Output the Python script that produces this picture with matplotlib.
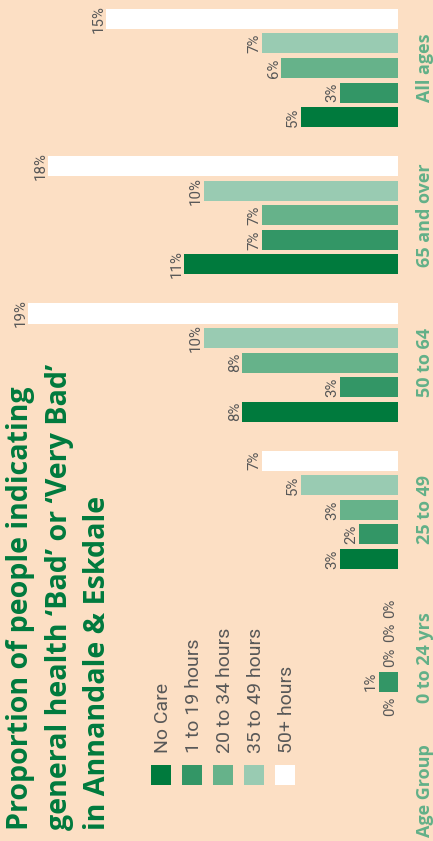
import matplotlib
matplotlib.use('Agg')
from matplotlib import pyplot as plt
from matplotlib.patches import Rectangle
from matplotlib import transforms

# data: % of people indicating 'Bad' or 'Very Bad' general health, by hours of care
groups = ['0 to 24 yrs', '25 to 49', '50 to 64', '65 and over', 'All ages']
no_care = [0, 3, 8, 11, 5]
care_1_19 = [1, 2, 3, 7, 3]
care_20_34 = [0, 3, 8, 7, 6]
care_35_49 = [0, 5, 10, 10, 7]
care_50_plus = [0, 7, 19, 18, 15]

series_names = ['No Care', '1 to 19 hours', '20 to 34 hours', '35 to 49 hours', '50+ hours']
series = [no_care, care_1_19, care_20_34, care_35_49, care_50_plus]
colors = ['#007a3d', '#339666', '#66b28a', '#99cbb2', '#ffffff']

title_lines = ['Proportion of people indicating',
               'general health \u2018Bad\u2019 or \u2018Very Bad\u2019',
               'in Annandale & Eskdale']

BG = '#fcdfc4'
DARK = '#007a3d'
LIGHT = '#62b088'
GREY = '#585858'

W, H = 433, 841
fig = plt.figure(figsize=(W / 100, H / 100), dpi=100, facecolor=BG)

# chart is drawn rotated: bars grow leftwards from a baseline at x=398px
ax = fig.add_axes([0, 0, 398 / W, 1])
ax.set_facecolor(BG)
ax.set_xlim(398 / 19.45, 0)
ax.set_ylim(-5.487, 28.770)
ax.axis('off')

for b, (name, vals, col) in enumerate(zip(series_names, series, colors)):
    rows = [6 * g + b for g in range(len(groups))]
    ax.barh(rows, vals, height=0.815, color=col, linewidth=0)
    for r, v in zip(rows, vals):
        ax.annotate('%d%%' % v, xy=(v, r), xytext=(-2.6, 0),
                    textcoords='offset points', rotation=90,
                    rotation_mode='anchor', ha='center', va='baseline',
                    fontsize=10.8, color=GREY, family='Roboto')

# group labels
trans = transforms.blended_transform_factory(fig.transFigure, ax.transData)
for g, name in enumerate(groups):
    ax.text(430 / W, 6 * g + 2, name, transform=trans, rotation=90,
            rotation_mode='anchor', ha='center', va='baseline',
            fontsize=13, fontweight='bold', color=LIGHT, family='Open Sans')
fig.text(430 / W, (H - 791) / H, 'Age Group', rotation=90,
         rotation_mode='anchor', ha='center', va='baseline',
         fontsize=13, fontweight='bold', color=LIGHT, family='Open Sans')

# legend
for i, (name, col) in enumerate(zip(series_names, colors)):
    x0 = 151 + 31 * i
    fig.add_artist(Rectangle((x0 / W, (H - 785) / H), 20 / W, 20 / H,
                             transform=fig.transFigure, facecolor=col,
                             edgecolor='none'))
    fig.text((x0 + 10 + 7) / W, (H - 753) / H, name, rotation=90,
             rotation_mode='anchor', ha='left', va='baseline',
             fontsize=14, color=GREY, family='Roboto')

# title
for i, line in enumerate(title_lines):
    fig.text((28 + 38.5 * i) / W, (H - 830) / H, line, rotation=90,
             rotation_mode='anchor', ha='left', va='baseline',
             fontsize=20.6, fontweight='bold', color=DARK, family='Open Sans')

fig.savefig('out.png', dpi=100, facecolor=BG)
